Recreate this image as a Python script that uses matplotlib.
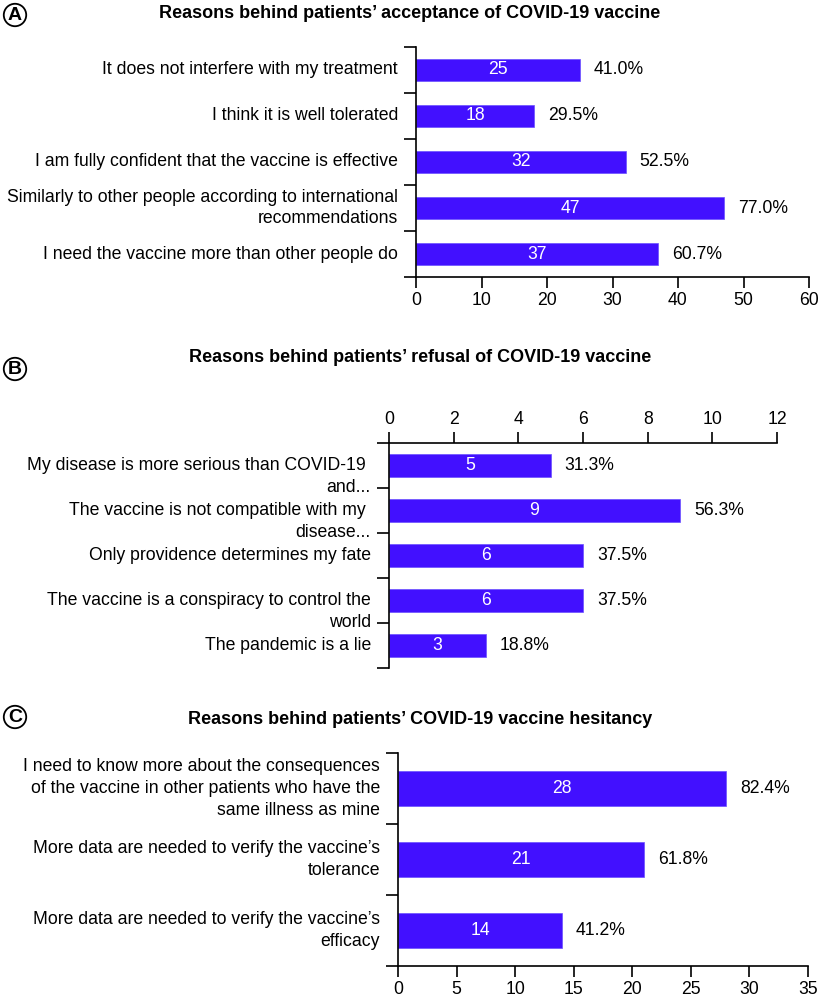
"""
Reasons behind acceptance / refusal / hesitancy - three stacked bar panels
"""

import numpy as np
import matplotlib
matplotlib.use('Agg')
import matplotlib.pyplot as plt

plt.rcParams['font.family'] = ['Liberation Sans', 'DejaVu Sans']

# data
a_labels = ['It does not interfere with my treatment',
            'I think it is well tolerated',
            'I am fully confident that the vaccine is effective',
            'Similarly to other people according to international\nrecommendations',
            'I need the vaccine more than other people do']
a_counts = [25, 18, 32, 47, 37]
a_pct = ['41.0%', '29.5%', '52.5%', '77.0%', '60.7%']

b_labels = ['My disease is more serious than COVID-19 \nand...',
            'The vaccine is not compatible with my \ndisease...',
            'Only providence determines my fate',
            'The vaccine is a conspiracy to control the\nworld',
            'The pandemic is a lie']
b_counts = [5, 9, 6, 6, 3]
b_pct = ['31.3%', '56.3%', '37.5%', '37.5%', '18.8%']

c_labels = ['I need to know more about the consequences\nof the vaccine in other patients who have the\nsame illness as mine',
            'More data are needed to verify the vaccine\u2019s\ntolerance',
            'More data are needed to verify the vaccine\u2019s\nefficacy']
c_counts = [28, 21, 14]
c_pct = ['82.4%', '61.8%', '41.2%']

titles = ['Reasons behind patients\u2019 acceptance of COVID-19 vaccine',
          'Reasons behind patients\u2019 refusal of COVID-19 vaccine',
          'Reasons behind patients\u2019 COVID-19 vaccine hesitancy']

W, H = 819, 999
fig = plt.figure(figsize=(W/100, H/100), dpi=100)

bar_col = '#4210ff'
fs = 12.7

def px_axes(x0, x1, y0, y1):
    # pixel box (top-left origin) -> figure axes
    return fig.add_axes([x0/W, 1 - y1/H, (x1 - x0)/W, (y1 - y0)/H])

def panel(ax, labels, counts, pct, xmax, xstep, top_axis=False, label_dy=None):
    n = len(labels)
    y = np.arange(n)
    ax.barh(y, counts, height=0.49, color=bar_col, edgecolor='#6a50ff', linewidth=0.5)
    ax.set_ylim(n - 0.5, -0.5)
    ax.set_xlim(0, xmax)
    ax.set_xticks(np.arange(0, xmax + xstep/2, xstep))
    ax.set_yticks(np.arange(n + 1) - 0.5)
    ax.set_yticklabels([])
    ax.spines['right'].set_visible(False)
    if top_axis:
        ax.spines['bottom'].set_visible(False)
        ax.xaxis.tick_top()
    else:
        ax.spines['top'].set_visible(False)
    for s in ['left', 'top', 'bottom']:
        ax.spines[s].set_linewidth(1.2)
    ax.tick_params(axis='x', length=8, width=1.2, labelsize=fs, pad=3)
    ax.tick_params(axis='y', length=9, width=1.2)
    for i in range(n):
        ax.text(counts[i]/2, y[i], str(counts[i]), color='white', ha='center', va='center', fontsize=fs)
        ax.annotate(pct[i], xy=(counts[i], y[i]), xytext=(10, 0), textcoords='offset points',
                    ha='left', va='center', fontsize=fs)
        dy = 0 if label_dy is None else label_dy[i]
        ax.annotate(labels[i], xy=(0, y[i]), xycoords=('axes fraction', 'data'),
                    xytext=(-13, dy), textcoords='offset points',
                    ha='right', va='center', fontsize=fs, linespacing=1.37)

axA = px_axes(416, 809, 47, 277)
panel(axA, a_labels, a_counts, a_pct, 60, 10)

axB = px_axes(389, 777, 443, 668)
panel(axB, b_labels, b_counts, b_pct, 12, 2, top_axis=True, label_dy=[-8, -8, 0, -8, 0])

axC = px_axes(398, 808, 753, 966)
panel(axC, c_labels, c_counts, c_pct, 35, 5)

# titles and circled panel letters
for ty, tx, t in [(14, 410, titles[0]), (358, 420, titles[1]), (719, 420, titles[2])]:
    fig.text(tx/W, 1 - ty/H, t, ha='center', va='center', fontsize=13, fontweight='bold')

for ly, l in [(15, 'A'), (369, 'B'), (717, 'C')]:
    fig.text(15/W, 1 - ly/H, l, ha='center', va='center', fontsize=14, fontweight='bold',
             bbox=dict(boxstyle='circle,pad=0.14', fc='white', ec='black', lw=1.3))

fig.savefig('out.png', dpi=100)
